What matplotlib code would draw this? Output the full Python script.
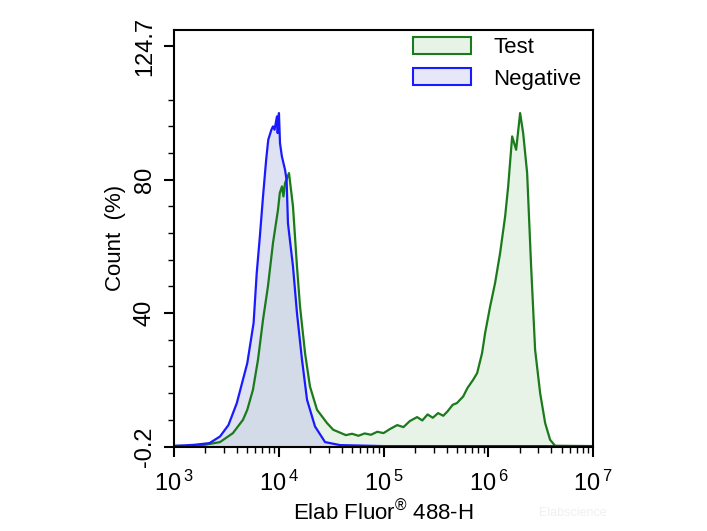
import numpy as np
import matplotlib
matplotlib.use("Agg")
import matplotlib.pyplot as plt
from matplotlib.patches import Patch
from matplotlib.ticker import LogLocator, FixedLocator, NullFormatter

plt.rcParams['font.family'] = ['Liberation Sans', 'DejaVu Sans']
plt.rcParams['mathtext.fontset'] = 'custom'
plt.rcParams['mathtext.rm'] = 'Liberation Sans'

# negative control histogram (log10 fluorescence, count %)
neg_log = [3.00, 3.10, 3.20, 3.34, 3.44, 3.52, 3.60, 3.65, 3.70, 3.73, 3.76, 3.79,
           3.82, 3.85, 3.88, 3.90, 3.93, 3.945, 3.96, 3.983, 3.99, 4.002, 4.012,
           4.03, 4.06, 4.075, 4.088, 4.11, 4.136, 4.174, 4.222, 4.27, 4.346,
           4.442, 4.585, 5.0, 6.0, 7.0]
neg_val = [0.2, 0.3, 0.5, 1.0, 3.0, 6.4, 13, 19, 25, 31, 37, 52,
           63, 75, 86, 92, 95, 96, 95, 99, 94, 100, 91,
           87, 83, 80, 67, 61, 54, 40, 26, 14, 6,
           1.3, 0.4, 0.1, 0.1, 0.1]

# test sample histogram
test_log = [3.00, 3.15, 3.277, 3.439, 3.563, 3.659, 3.70, 3.754, 3.802, 3.850, 3.897,
            3.945, 3.993, 4.01, 4.031, 4.045, 4.060, 4.098, 4.136, 4.174, 4.203,
            4.251, 4.298, 4.365, 4.461, 4.52, 4.58, 4.64, 4.70, 4.76, 4.82,
            4.88, 4.94, 5.00, 5.06, 5.13, 5.19, 5.25, 5.32, 5.37, 5.42,
            5.47, 5.52, 5.57, 5.61, 5.66, 5.70, 5.76, 5.80, 5.855,
            5.893, 5.940, 5.969, 6.017, 6.064, 6.112, 6.160, 6.189, 6.227, 6.265,
            6.303, 6.332, 6.370, 6.408, 6.446, 6.494, 6.542, 6.589, 6.637, 7.0]
test_val = [0.1, 0.2, 0.4, 1.3, 4, 8, 11, 17, 26, 38, 48,
            61, 71, 76, 78, 75, 79, 82, 72, 54, 42,
            28, 18, 11, 7, 5, 4.2, 3.4, 3.8, 3.2, 3.9,
            3.5, 4.4, 4.0, 5.2, 6.4, 5.8, 7.6, 8.8, 7.8, 9.6,
            8.6, 10.0, 9.2, 10.5, 12.5, 13, 15, 17.5, 20,
            22, 28, 34, 42, 49, 58, 69, 78, 93, 89,
            100, 94, 82, 54, 29, 16, 7, 2, 0.2, 0.1]

green = '#1b7a1b'
blue = '#1a1aff'

fig = plt.figure(figsize=(7.07, 5.31), dpi=100)
ax = fig.add_axes([0.246, 0.158, 0.593, 0.786])

tx = 10 ** np.array(test_log)
nx_ = 10 ** np.array(neg_log)
ax.fill_between(tx, -0.2, test_val, color='#d6ead6', alpha=0.55, lw=0)
ax.fill_between(nx_, -0.2, neg_val, color='#b8bfe6', alpha=0.45, lw=0)
ax.plot(tx, test_val, color=green, lw=1.6)
ax.plot(nx_, neg_val, color=blue, lw=1.6)

ax.set_xscale('log')
ax.set_xlim(1e3, 1e7)
ax.set_ylim(-0.2, 125)

ax.xaxis.set_major_locator(FixedLocator([1e3, 1e4, 1e5, 1e6, 1e7]))
ax.set_xticklabels([r'$\mathregular{10^{\,3}}$', r'$\mathregular{10^{\,4}}$',
                    r'$\mathregular{10^{\,5}}$', r'$\mathregular{10^{\,6}}$',
                    r'$\mathregular{10^{\,7}}$'])
ax.xaxis.set_minor_locator(LogLocator(base=10, subs=np.arange(2, 10), numticks=20))
ax.xaxis.set_minor_formatter(NullFormatter())

ax.set_yticks([-0.2, 40, 80, 120])
ax.set_yticklabels(['-0.2', '40', '80', '124.7'], rotation=90, va='center')
ax.yaxis.set_minor_locator(FixedLocator([8, 16, 24, 32, 48, 56, 64, 72, 88, 96, 104]))

ax.tick_params(which='major', direction='out', length=7, width=1.5, labelsize=17, pad=6)
ax.tick_params(which='minor', direction='out', length=4, width=1.0)
ax.tick_params(axis='x', which='major', pad=10)
for s in ax.spines.values():
    s.set_linewidth(1.5)

ax.set_xlabel('Elab Fluor$^{®}$ 488-H', fontsize=16, labelpad=3)
ax.set_ylabel('Count  (%)', fontsize=16, labelpad=6)

handles = [Patch(facecolor='#e8f3e8', edgecolor=green, lw=1.5, label='Test'),
           Patch(facecolor='#e6e8f8', edgecolor=blue, lw=1.5, label='Negative')]
ax.legend(handles=handles, loc='upper right', bbox_to_anchor=(1.02, 1.03), frameon=False,
          fontsize=16, handlelength=2.6, handleheight=0.8, handletextpad=1.0,
          labelspacing=0.45)

fig.text(0.81, 0.028, 'Elabscience', fontsize=9, color='#f0f0f0', ha='center')

fig.savefig('out.png', dpi=100)
